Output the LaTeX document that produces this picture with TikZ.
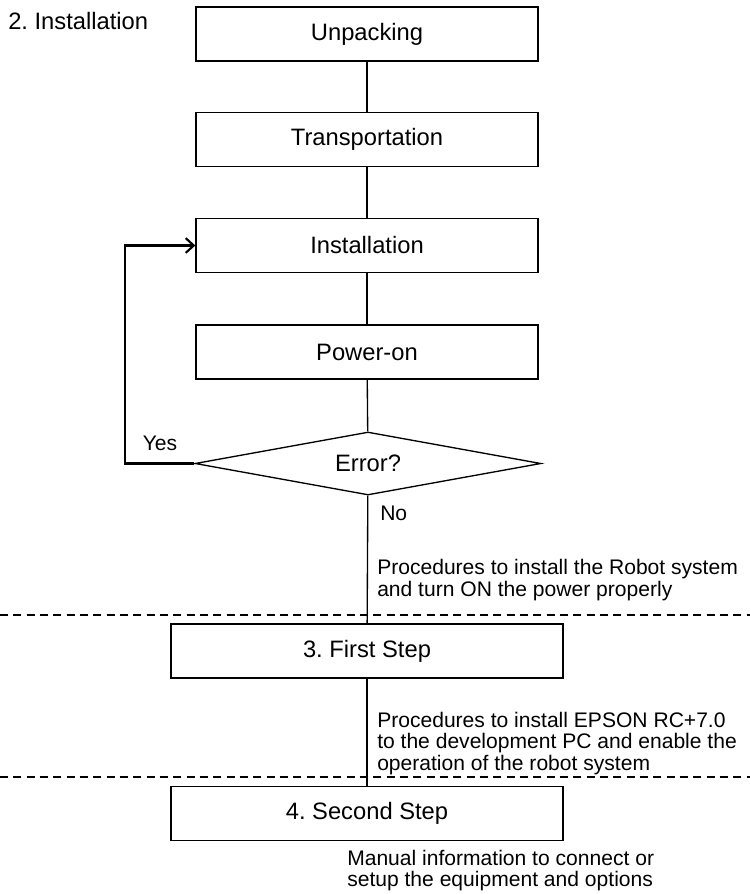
\documentclass[tikz,border=0pt]{standalone}
\usepackage{fontspec}
\setmainfont{Liberation Sans}
\frenchspacing
\newcommand{\bigtext}{\fontsize{17.8}{20}\selectfont}
\newcommand{\smalltext}{\fontsize{15.8}{16.3}\selectfont}
\usetikzlibrary{shapes, arrows, arrows.meta, positioning}
\tikzstyle{stepbox} = [draw, line width=1pt, rectangle, minimum width=256.5pt, minimum height=40.5pt, inner sep=0pt, font=\bigtext]
\tikzstyle{widebox} = [stepbox, minimum width=294pt]
\tikzstyle{decision} = [draw, line width=1pt, diamond, aspect=5.5, inner sep=0pt, minimum width=259.5pt, minimum height=47.25pt, font=\bigtext]
\tikzstyle{note} = [align=left, inner sep=0pt, font=\smalltext]
\tikzstyle{answer} = [inner sep=0pt, font=\smalltext]
\tikzstyle{link} = [line width=1pt]
\tikzstyle{retry} = [line width=1.6pt, -{Straight Barb[length=6pt, width=11pt]}]
\tikzstyle{divider} = [line width=1pt, dash pattern=on 6pt off 4pt]

\begin{document}
\begin{tikzpicture}[x=0.75pt, y=-0.75pt]
	\fill[white] (0,0) rectangle (750,894);
	\useasboundingbox (0,0) rectangle (750,894);
	\node[anchor=base west, inner sep=0pt, font=\bigtext] (title) at (8,29) {2. Installation};
	% flow of the installation chapter
	\node[stepbox] (unpack) at (367,34) {Unpacking};
	\node[stepbox] (trans) at (367,139.5) {Transportation};
	\node[stepbox] (inst) at (367,245.5) {Installation};
	\node[stepbox] (power) at (367,352) {Power-on};
	\node[decision] (err) at (368,463.5) {Error?};
	\node[answer] (yes) at (160,443) {Yes};
	\node[answer, anchor=west] (no) at (380,513) {No};
	\node[note, anchor=north west] (noteA) at (377,559) {Procedures to install the Robot system\\and turn ON the power properly};
	\node[widebox] (first) at (367,651) {3. First Step};
	\node[note, anchor=north west] (noteB) at (377,711.5) {Procedures to install EPSON RC+7.0\\to the development PC and enable the\\operation of the robot system};
	\node[widebox] (second) at (367,813.5) {4. Second Step};
	\node[note, anchor=north west] (noteC) at (347,849.5) {Manual information to connect or\\setup the equipment and options};
	\coordinate (bend) at (125,463.5);
	\coordinate (divAl) at (0,615);
	\coordinate (divAr) at (750,615);
	\coordinate (divBl) at (0,777);
	\coordinate (divBr) at (750,777);
	% section borders
	\draw[divider] (divAl) -- (divAr);
	\draw[divider] (divBl) -- (divBr);
	\draw[link] (unpack) -- (trans);
	\draw[link] (trans) -- (inst);
	\draw[link] (inst) -- (power);
	\draw[link] (power) -- (err);
	\draw[link] (err) -- (first);
	\draw[link] (first) -- (second);
	\draw[retry] (err.west) -- (bend) |- (inst.west);
\end{tikzpicture}
\end{document}
